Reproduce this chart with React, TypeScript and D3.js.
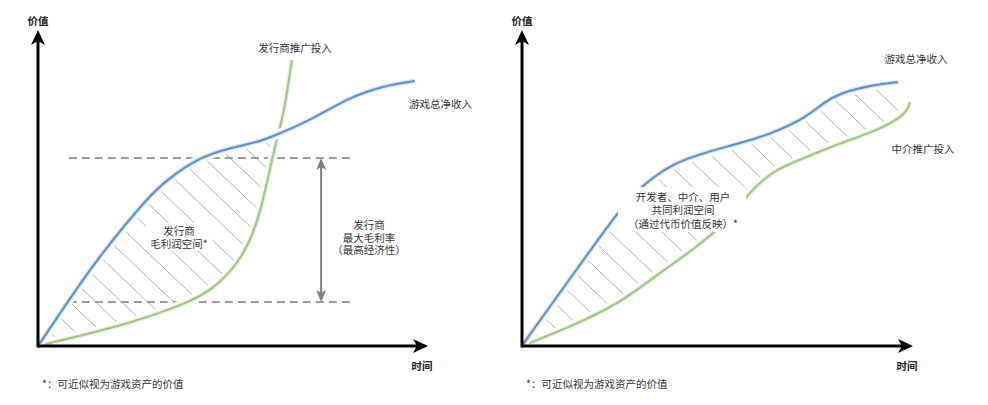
import React from "react";
import * as d3 from "d3";

type Pt = [number, number];

// both panels use the same abstract units: time 0..100 (x), value 0..100 (y)
const publisherRevenue: Pt[] = [
  [0, 0], [7.4, 13.6], [15.9, 28.8], [28.7, 47.8], [33.1, 52.5], [40.8, 59.5],
  [50, 63], [56.9, 64.6], [62.1, 67.4], [69, 70.9], [80, 78.8], [88.5, 82.3], [96.7, 83.9],
];
const publisherSpend: Pt[] = [
  [0, 0], [10.8, 3.2], [24.4, 7.6], [32.6, 11.1], [39, 14.2], [44.1, 17.4], [50, 24.1],
  [54.4, 32.6], [57.7, 45.3], [60.3, 61.1], [62.1, 69], [63.6, 77.8], [65.1, 90.5],
];
const marginLevels = [13.9, 59.5];
const marginSpan = [7.9, 80.5];
const marginArrowAt = 72.6;

const tokenRevenue: Pt[] = [
  [0, 0], [4.6, 8.2], [14.8, 25.6], [24.3, 42.1], [30.2, 50.3], [38.6, 57.9],
  [47.3, 61.4], [57, 64.6], [64.2, 67.4], [72.9, 72.5], [77, 76.9], [81.3, 80.1],
  [89.8, 82.6], [96.2, 83.5],
];
const tokenSpend: Pt[] = [
  [0, 0], [12.3, 6], [25.1, 13.6], [34.5, 22.5], [43.7, 30.4], [52.4, 39.2],
  [57.5, 47.8], [64.2, 55.7], [72.9, 59.8], [81.3, 64.2], [89.8, 67.7], [95.9, 71.5],
  [98.7, 74.7], [99.2, 77.2],
];

const yAxisTitle = "价值";
const xAxisTitle = "时间";
const footnote = "*：可近似视为游戏资产的价值";
const leftLabels = {
  spend: "发行商推广投入",
  revenue: "游戏总净收入",
  area: ["发行商", "毛利润空间*"],
  margin: ["发行商", "最大毛利率", "（最高经济性）"],
};
const rightLabels = {
  revenue: "游戏总净收入",
  spend: "中介推广投入",
  area: ["开发者、中介、用户", "共同利润空间", "（通过代币价值反映）*"],
};

const BLUE = "#5b8fcd";
const GREEN = "#9cc67f";
const TEXT = "#333";
const FONT = "'Noto Sans CJK SC', 'Noto Sans', sans-serif";
const CURVE = d3.curveBasis;

function makeScales(left: number, right: number) {
  const x = d3.scaleLinear().domain([0, 100]).range([left, right]);
  const y = d3.scaleLinear().domain([0, 100]).range([346, 30]);
  return { x, y };
}

type Scale = d3.ScaleLinear<number, number>;

function Axes({ x, y }: { x: Scale; y: Scale }) {
  const ox = x(0), oy = y(0), tx = x(100), ty = y(100);
  return (
    <g>
      <line x1={ox} y1={oy} x2={tx - 10} y2={oy} stroke="#000" strokeWidth={3} />
      <line x1={ox} y1={oy + 1.5} x2={ox} y2={ty + 10} stroke="#000" strokeWidth={3} />
      <path d={`M${tx},${oy} L${tx - 15},${oy - 7} L${tx - 11},${oy} L${tx - 15},${oy + 7} Z`} fill="#000" />
      <path d={`M${ox},${ty} L${ox - 7},${ty + 15} L${ox},${ty + 11} L${ox + 7},${ty + 15} Z`} fill="#000" />
      <text x={ox} y={20} textAnchor="middle" dominantBaseline="central" fontSize={10.5} fill="#222" fontWeight={600}>
        {yAxisTitle}
      </text>
      <text x={tx - 6} y={365} textAnchor="middle" dominantBaseline="central" fontSize={10.5} fill="#222" fontWeight={600}>
        {xAxisTitle}
      </text>
      <text x={ox + 4} y={383} dominantBaseline="central" fontSize={10.5} fill={TEXT}>
        {footnote}
      </text>
    </g>
  );
}

function HatchedGap({ id, x, y, upper, lower }: { id: string; x: Scale; y: Scale; upper: Pt[]; lower: Pt[] }) {
  const below = d3.area<Pt>().x((d) => x(d[0])).y0(y(0)).y1((d) => y(d[1])).curve(CURVE);
  const above = d3.area<Pt>().x((d) => x(d[0])).y0(y(100)).y1((d) => y(d[1])).curve(CURVE);
  const top = y(100), bottom = y(0);
  const h = bottom - top;
  const slope = 0.95;
  const starts = d3.range(x(0) - h / slope, x(100), 26);
  return (
    <g>
      <defs>
        <clipPath id={`${id}-below`}>
          <path d={below(upper) || ""} />
        </clipPath>
        <clipPath id={`${id}-above`}>
          <path d={above(lower) || ""} />
        </clipPath>
      </defs>
      <g clipPath={`url(#${id}-below)`}>
        <g clipPath={`url(#${id}-above)`}>
          {starts.map((s, i) => (
            <line key={i} x1={s} y1={top} x2={s + h / slope} y2={bottom} stroke="#9a9a9a" strokeWidth={0.8} />
          ))}
        </g>
      </g>
    </g>
  );
}

function Curve({ x, y, data, color }: { x: Scale; y: Scale; data: Pt[]; color: string }) {
  const line = d3.line<Pt>().x((d) => x(d[0])).y((d) => y(d[1])).curve(CURVE);
  const d = line(data) || "";
  return (
    <g fill="none">
      <path d={d} stroke="#fff" strokeWidth={9} />
      <path d={d} stroke={color} strokeOpacity={0.25} strokeWidth={4.5} />
      <path d={d} stroke={color} strokeWidth={2} />
    </g>
  );
}

// multi-line label as one text element
function Lines({ lines, cx, cy, step = 13 }: { lines: string[]; cx: number; cy: number; step?: number }) {
  return (
    <text x={cx} y={cy} textAnchor="middle" fontSize={10.5} fill={TEXT}>
      {lines.map((t, i) => (
        <tspan key={i} x={cx} y={cy + i * step + 4}>
          {t}
        </tspan>
      ))}
    </text>
  );
}

function PublisherPanel() {
  const { x, y } = makeScales(38, 428);
  const [lowLevel, highLevel] = marginLevels;
  const ax = x(marginArrowAt);
  const at = y(highLevel), ab = y(lowLevel);
  return (
    <g>
      <HatchedGap id="pub" x={x} y={y} upper={publisherRevenue} lower={publisherSpend} />
      <rect x={146} y={223} width={66} height={28} fill="#fff" />
      {marginLevels.map((lv) => (
        <line key={lv} x1={x(marginSpan[0])} x2={x(marginSpan[1])} y1={y(lv)} y2={y(lv)}
          stroke="#9a9a9a" strokeWidth={2} strokeDasharray="8 5" />
      ))}
      <line x1={ax} x2={ax} y1={at + 8} y2={ab - 8} stroke="#7f7f7f" strokeWidth={2} />
      <path d={`M${ax},${at} L${ax - 5},${at + 12} L${ax},${at + 9} L${ax + 5},${at + 12} Z`} fill="#7f7f7f" />
      <path d={`M${ax},${ab} L${ax - 5},${ab - 12} L${ax},${ab - 9} L${ax + 5},${ab - 12} Z`} fill="#7f7f7f" />
      <Curve x={x} y={y} data={publisherSpend} color={GREEN} />
      <Curve x={x} y={y} data={publisherRevenue} color={BLUE} />
      <Axes x={x} y={y} />
      <text x={295} y={47} textAnchor="middle" dominantBaseline="central" fontSize={10.5} fill={TEXT}>
        {leftLabels.spend}
      </text>
      <text x={409} y={103} dominantBaseline="central" fontSize={10.5} fill={TEXT}>
        {leftLabels.revenue}
      </text>
      <Lines lines={leftLabels.area} cx={179} cy={231} />
      <Lines lines={leftLabels.margin} cx={369} cy={225} step={12.7} />
    </g>
  );
}

function TokenPanel() {
  const { x, y } = makeScales(522, 913);
  return (
    <g>
      <HatchedGap id="tok" x={x} y={y} upper={tokenRevenue} lower={tokenSpend} />
      <Curve x={x} y={y} data={tokenSpend} color={GREEN} />
      <Curve x={x} y={y} data={tokenRevenue} color={BLUE} />
      <rect x={618} y={187} width={128} height={45} fill="#fff" />
      <Axes x={x} y={y} />
      <text x={916} y={58} textAnchor="middle" dominantBaseline="central" fontSize={10.5} fill={TEXT}>
        {rightLabels.revenue}
      </text>
      <text x={923} y={148} textAnchor="middle" dominantBaseline="central" fontSize={10.5} fill={TEXT}>
        {rightLabels.spend}
      </text>
      <Lines lines={rightLabels.area} cx={683} cy={197} step={13.3} />
    </g>
  );
}

export default function App() {
  return (
    <div style={{ position: "absolute", left: 0, top: 0, background: "#fff" }}>
      <svg width={988} height={405} fontFamily={FONT} style={{ display: "block" }}>
        <rect width={988} height={405} fill="#fff" />
        <PublisherPanel />
        <TokenPanel />
      </svg>
    </div>
  );
}
